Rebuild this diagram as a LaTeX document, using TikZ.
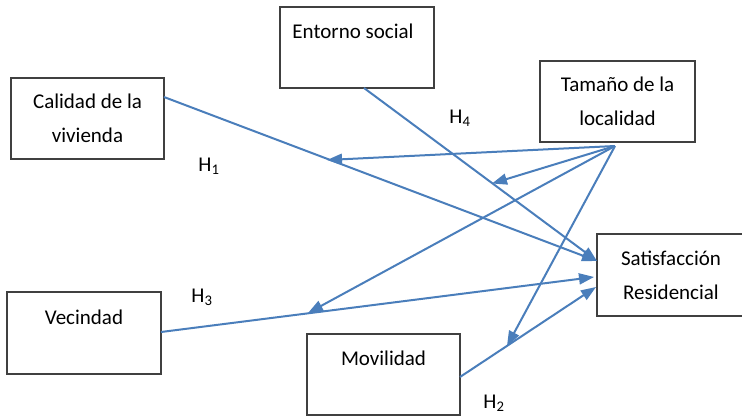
\documentclass[tikz,border=0pt]{standalone}
\usepackage{fontspec}
\setmainfont{Carlito}
\usetikzlibrary{arrows.meta}
\definecolor{lineblue}{HTML}{4A7EBB}
\definecolor{boxgray}{HTML}{404040}
\tikzset{
  varbox/.style={draw=boxgray, line width=1.3pt, minimum width=#1, minimum height=81pt, inner sep=0pt,
    align=center, font=\fontsize{21}{34}\selectfont, text=black},
  varbox/.default=154pt,
  path/.style={draw=lineblue, line width=2pt, -{Triangle[length=15pt,width=11pt]}},
  hlabel/.style={font=\fontsize{21}{24}\selectfont, inner sep=0pt}
}
\begin{document}
\begin{tikzpicture}[x=1pt,y=-1pt]
\path[use as bounding box] (0,0) rectangle (742,416);
\begin{scope}
\clip (0,0) rectangle (742,416);
\node[varbox=153pt] (cal) at (87.5,118.5) {Calidad de la\\vivienda};
\node[varbox=154pt] (ent) at (357,47.5) {Entorno social\hspace*{8pt}\\[-12pt]\strut};
\node[varbox=155pt] (tam) at (617.5,101.5) {Tamaño de la\\localidad};
\node[varbox=148pt, minimum height=82pt] (sat) at (671,275) {Satisfacción\\Residencial};
\node[varbox=154pt, minimum height=82pt] (vec) at (84,333) {Vecindad\\[-12pt]\strut};
\node[varbox=153pt] (mov) at (383.5,374.5) {Movilidad\\[-12pt]\strut};
\end{scope}

% attachment points
\coordinate (calout) at (164,97);
\coordinate (entout) at (364,88);
\coordinate (vecout) at (161,332);
\coordinate (movout) at (460,377);
\coordinate (tamout) at (615,146);
\coordinate (satA) at (597,261);
\coordinate (satB) at (594,277);
\coordinate (satC) at (596,287);
% moderation targets on the paths
\coordinate (onCal) at (327,160);
\coordinate (onEnt) at (492,183.5);
\coordinate (onVec) at (308,313);
\coordinate (onMov) at (507,346);

\draw[path] (calout) -- (satA);
\draw[path] (entout) -- (satA);
\draw[path] (vecout) -- (satB);
\draw[path] (movout) -- (satC);

\draw[path] (tamout) -- (onCal);
\draw[path] (tamout) -- (onEnt);
\draw[path] (tamout) -- (onVec);
\draw[path] (tamout) -- (onMov);

\node[hlabel] (h1) at (209,166) {H\textsubscript{1}};
\node[hlabel] (h4) at (460,118) {H\textsubscript{4}};
\node[hlabel] (h3) at (202,297) {H\textsubscript{3}};
\node[hlabel] (h2) at (494,403) {H\textsubscript{2}};
\end{tikzpicture}
\end{document}
